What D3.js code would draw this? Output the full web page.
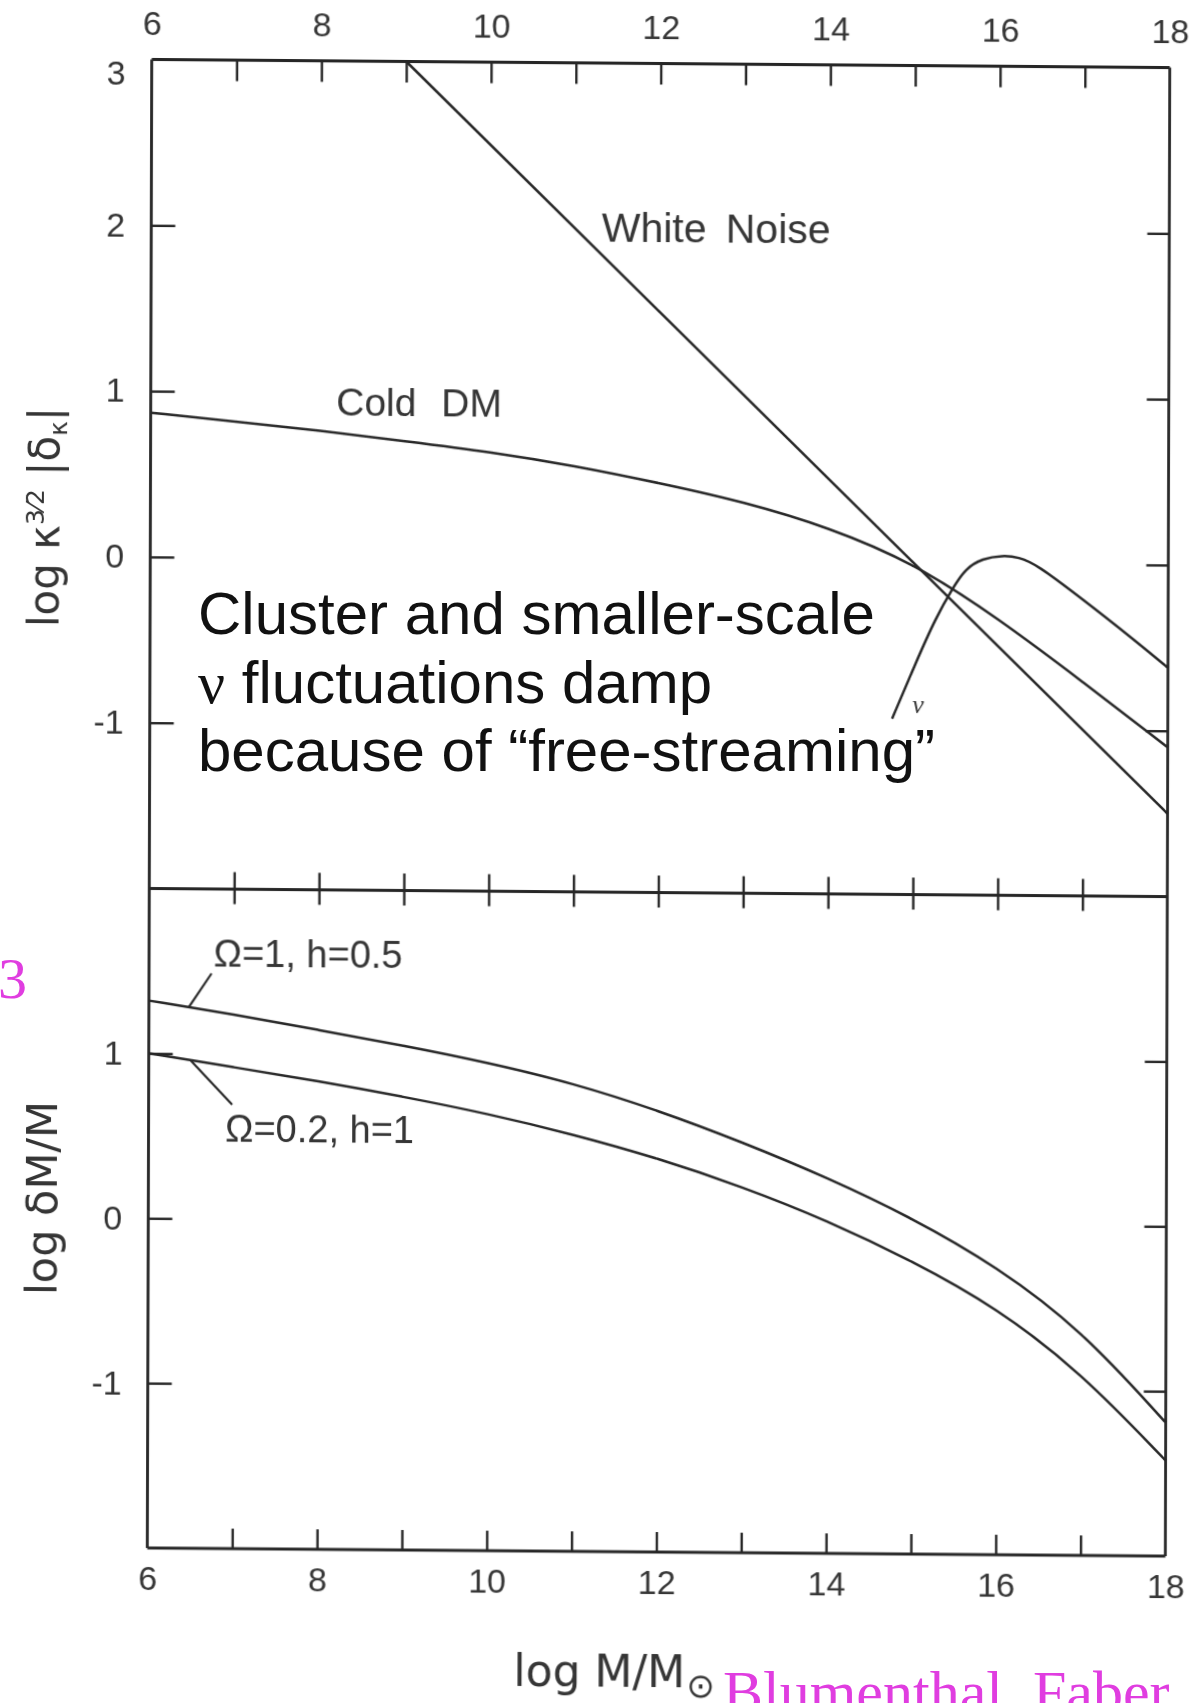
<!DOCTYPE html>
<html>
<head>
<meta charset="utf-8">
<script src="https://cdn.jsdelivr.net/npm/d3@7"></script>
<style>
  html, body { margin: 0; padding: 0; background: #fff; }
  svg { display: block; }
</style>
</head>
<body>
<svg id="fig" width="1189" height="1703"></svg>
<script>
// log10 (M / M_sun) at which the smooth curves are tabulated
const logMass = [6, 7, 8, 9, 10, 11, 12, 13, 14, 15, 16, 17, 18];

// Upper panel: log k^{3/2} |delta_k|
const coldDM = [0.87, 0.82, 0.77, 0.71, 0.65, 0.57, 0.47, 0.36, 0.21, 0.00, -0.33, -0.71, -1.10];
const whiteNoiseMass = [9, 18];
const whiteNoise = [3.0, -1.5];
const neutrinoMass = [14.75, 15.02, 15.26, 15.46, 15.61, 15.81, 16.04, 16.24, 16.44, 16.99, 17.57, 18.0];
const neutrino = [-0.94, -0.61, -0.33, -0.15, -0.03, 0.03, 0.05, 0.04, 0.00, -0.21, -0.44, -0.62];

// Lower panel: log deltaM/M
const omega1h05 = [1.32, 1.24, 1.15, 1.06, 0.96, 0.84, 0.68, 0.49, 0.28, 0.04, -0.25, -0.63, -1.19];
const omega02h1 = [1.00, 0.92, 0.84, 0.75, 0.65, 0.53, 0.39, 0.22, 0.02, -0.22, -0.50, -0.89, -1.42];

// Axis ticks and labels
const minorTicks = [7, 8, 9, 10, 11, 12, 13, 14, 15, 16, 17];
const massLabels = [6, 8, 10, 12, 14, 16, 18];
const upperTicks = [2, 1, 0, -1];
const upperLabels = [3, 2, 1, 0, -1];
const lowerTicks = [1, 0, -1];

// Frame geometry
const L = 149.5, R = 1167.5, T = 63.5, MID = 892.5, B = 1552;
const cx = 659, cy = 808;

const x = d3.scaleLinear([6, 18], [L, R]);
const yU = d3.scaleLinear([-2, 3], [MID, T]);
const yL = d3.scaleLinear([-2, 2], [B, MID]);

const svg = d3.select("#fig");
const defs = svg.append("defs");
defs.append("filter").attr("id", "soft")
  .append("feGaussianBlur").attr("stdDeviation", 0.55);

const INK = "#262626";
const TXT = "#353535";

// the printed figure is very slightly skewed on the page
const g = svg.append("g")
  .attr("filter", "url(#soft)")
  .attr("transform", `matrix(1,0.008,-0.003,1,${0.003 * cy},${-0.008 * cx})`);

function fmt(d) { return d < 0 ? "-" + (-d) : String(d); }

function addAxis(gen, tx, ty, labels) {
  const a = g.append("g").attr("transform", `translate(${tx},${ty})`).call(gen);
  a.select(".domain").remove();
  a.selectAll(".tick line").attr("stroke", INK).attr("stroke-width", 2.4);
  a.selectAll(".tick text")
    .attr("fill", TXT)
    .style("font-family", "'Liberation Sans', Arial, sans-serif")
    .style("font-size", "34px");
  if (!labels) a.selectAll(".tick text").remove();
  if (labels) a.selectAll(".tick line").remove();
  return a;
}

// top edge of the upper panel
addAxis(d3.axisBottom(x).tickValues(minorTicks).tickSize(21).tickSizeOuter(0), 0, T, false);
addAxis(d3.axisTop(x).tickValues(massLabels).tickSize(0).tickPadding(25).tickFormat(fmt), 0, T, true);
// shared edge between the panels: ticks cross the line
addAxis(d3.axisTop(x).tickValues(minorTicks).tickSize(17).tickSizeOuter(0), 0, MID, false);
addAxis(d3.axisBottom(x).tickValues(minorTicks).tickSize(15).tickSizeOuter(0), 0, MID, false);
// bottom edge
addAxis(d3.axisTop(x).tickValues(minorTicks).tickSize(20).tickSizeOuter(0), 0, B, false);
addAxis(d3.axisBottom(x).tickValues(massLabels).tickSize(0).tickPadding(18).tickFormat(fmt), 0, B, true);

// upper panel y axes
addAxis(d3.axisRight(yU).tickValues(upperTicks).tickSize(24).tickSizeOuter(0), L, 0, false);
const upLab = addAxis(d3.axisLeft(yU).tickValues(upperLabels).tickSize(0).tickPadding(26).tickFormat(fmt), L, 0, true);
upLab.selectAll(".tick text").filter(d => d === 3).attr("dy", "0.74em");
addAxis(d3.axisLeft(yU).tickValues(upperTicks).tickSize(22).tickSizeOuter(0), R, 0, false);

// lower panel y axes
addAxis(d3.axisRight(yL).tickValues(lowerTicks).tickSize(24).tickSizeOuter(0), L, 0, false);
addAxis(d3.axisLeft(yL).tickValues(lowerTicks).tickSize(0).tickPadding(26).tickFormat(fmt), L, 0, true);
addAxis(d3.axisLeft(yL).tickValues(lowerTicks).tickSize(22).tickSizeOuter(0), R, 0, false);

// frame
const frame = g.append("g").attr("stroke", INK).attr("stroke-width", 2.8).attr("fill", "none");
[[L, T, R, T], [L, MID, R, MID], [L, B, R, B], [L, T, L, B], [R, T, R, B]].forEach(s => {
  frame.append("line").attr("x1", s[0]).attr("y1", s[1]).attr("x2", s[2]).attr("y2", s[3]);
});

// curves
function curve(xs, ys, yScale, smooth) {
  const pts = xs.map((v, i) => [v, ys[i]]);
  const gen = d3.line().x(d => x(d[0])).y(d => yScale(d[1]))
    .curve(smooth ? d3.curveBasis : d3.curveLinear);
  g.append("path").attr("d", gen(pts))
    .attr("fill", "none").attr("stroke", INK).attr("stroke-width", 2.5)
    .attr("stroke-linejoin", "round");
}
curve(whiteNoiseMass, whiteNoise, yU, false);
curve(logMass, coldDM, yU, true);
curve(neutrinoMass, neutrino, yU, true);
curve(logMass, omega1h05, yL, true);
curve(logMass, omega02h1, yL, true);

// curve labels in the upper panel
const lab = (txt, px, py, size, fam) => g.append("text")
  .attr("x", px).attr("y", py).attr("fill", TXT)
  .style("font-family", fam || "'Liberation Sans', Arial, sans-serif")
  .style("font-size", size + "px").text(txt);
lab("White", 600, 242, 41);
lab("Noise", 724, 242, 41);
lab("Cold", 335, 418, 39);
lab("DM", 440, 418, 39);
g.append("text").attr("x", 912).attr("y", 711).attr("fill", TXT)
  .style("font-family", "'Liberation Serif', serif").style("font-style", "italic")
  .style("font-size", "26px").text("ν");

// labels with leader lines in the lower panel
const interpUpper = d3.scaleLinear(logMass, omega1h05);
const interpLower = d3.scaleLinear(logMass, omega02h1);
const leaders = [
  { m: 6.47, v: interpUpper(6.47), tx: 212, ty: 977 },
  { m: 6.49, v: interpLower(6.49), tx: 233, ty: 1108 }
];
leaders.forEach(d => {
  g.append("line").attr("x1", x(d.m)).attr("y1", yL(d.v)).attr("x2", d.tx).attr("y2", d.ty)
    .attr("stroke", INK).attr("stroke-width", 2.2);
});
lab("Ω=1, h=0.5", 214, 970, 38);
lab("Ω=0.2, h=1", 226, 1145, 38);

// axis titles
const titleFont = "'DejaVu Sans', sans-serif";
const yt1 = g.append("text").attr("transform", "translate(58,522) rotate(-90)")
  .attr("text-anchor", "middle").attr("fill", TXT)
  .style("font-family", titleFont).style("font-size", "42px");
yt1.append("tspan").text("log κ");
yt1.append("tspan").attr("dy", -15).style("font-size", "25px").text("3⁄2");
yt1.append("tspan").attr("dy", 15).text(" |δ");
yt1.append("tspan").attr("dy", 8).style("font-size", "25px").text("κ");
yt1.append("tspan").attr("dy", -8).text("|");

g.append("text").attr("transform", "translate(58,1203) rotate(-90)")
  .attr("text-anchor", "middle").attr("fill", TXT)
  .style("font-family", titleFont).style("font-size", "43px").text("log δM/M");

g.append("text").attr("x", 516).attr("y", 1687).attr("fill", TXT)
  .style("font-family", titleFont).style("font-size", "44px").text("log M/M");
g.append("text").attr("x", 689).attr("y", 1697).attr("fill", TXT)
  .style("font-family", titleFont).style("font-size", "34px").text("⊙");

// overlaid note
const note = svg.append("text").attr("fill", "#111")
  .style("font-family", "'Liberation Sans', Arial, sans-serif").style("font-size", "60px");
note.append("tspan").attr("x", 198).attr("y", 634).text("Cluster and smaller-scale");
const l2 = note.append("tspan").attr("x", 198).attr("y", 703);
l2.append("tspan").style("font-family", "'Liberation Serif', serif").text("ν");
l2.append("tspan").text(" fluctuations damp");
note.append("tspan").attr("x", 198).attr("y", 771).text("because of “free-streaming”");

// page annotations
const MAG = "#e03de0";
svg.append("text").attr("x", 27).attr("y", 998).attr("text-anchor", "end").attr("fill", MAG)
  .style("font-family", "'Liberation Serif', serif").style("font-size", "58px").text("3");
svg.append("text").attr("x", 723).attr("y", 1712).attr("fill", MAG)
  .style("font-family", "'Liberation Serif', serif").style("font-size", "60px").text("Blumenthal, Faber");
</script>
</body>
</html>
